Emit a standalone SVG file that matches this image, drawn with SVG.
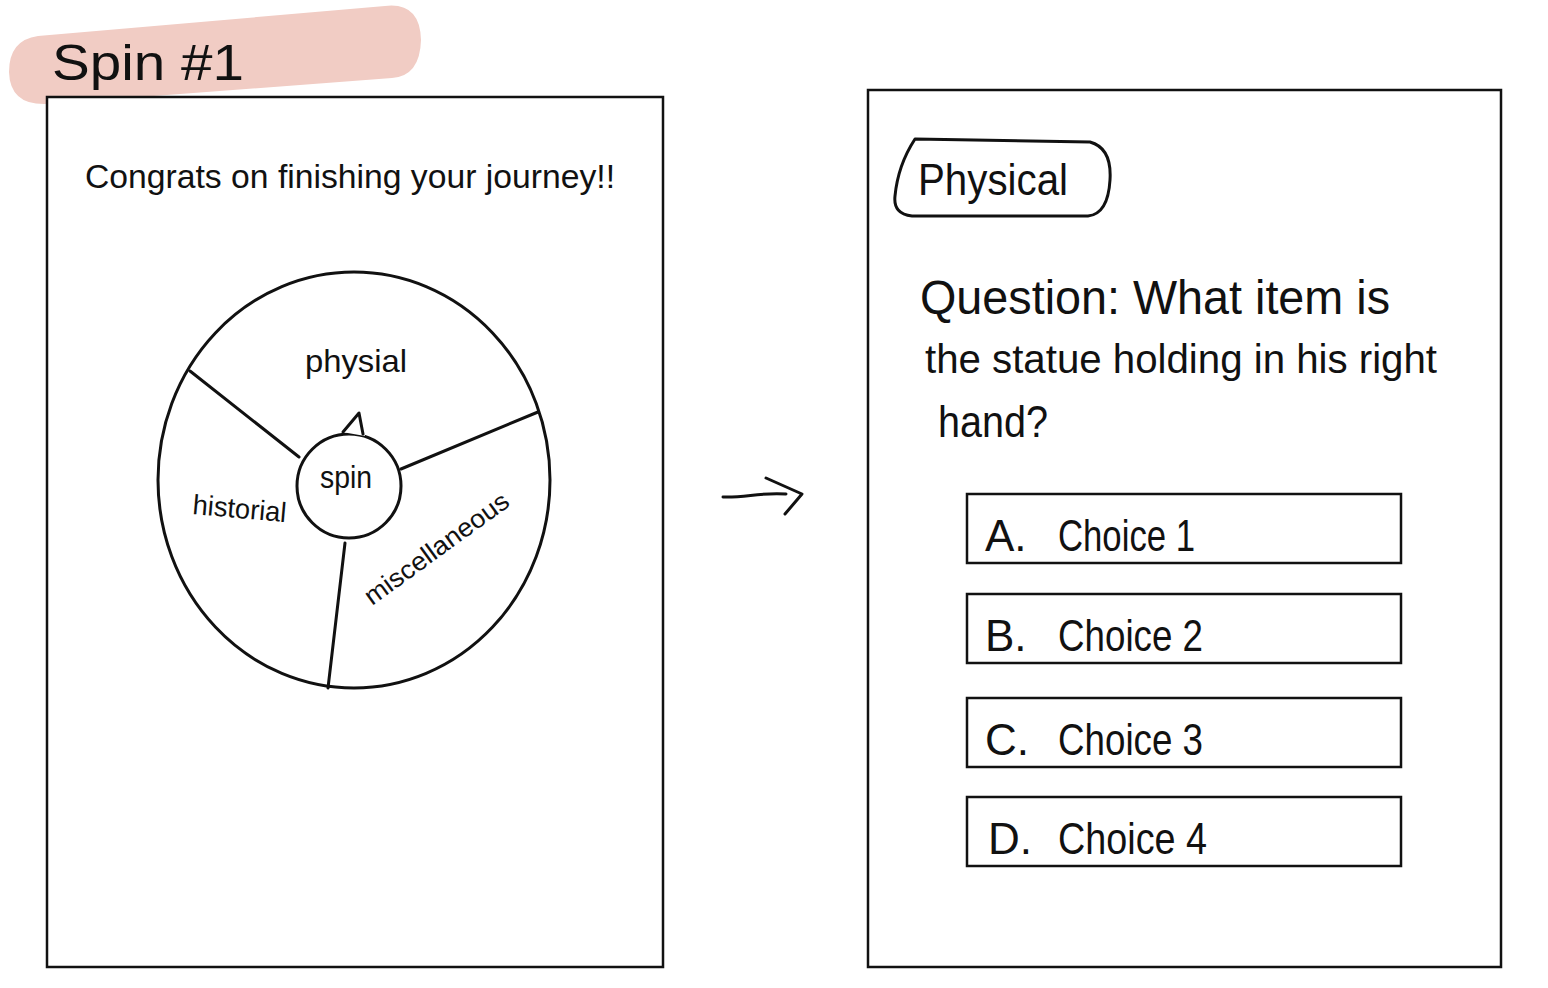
<svg xmlns="http://www.w3.org/2000/svg" width="1548" height="988" viewBox="0 0 1548 988">
<style>
.frame{fill:#fff;stroke:#111;stroke-width:2.5}
.ln{fill:none;stroke:#111;stroke-width:3;stroke-linecap:round;stroke-linejoin:round}
.t{font-family:"Liberation Sans","DejaVu Sans",sans-serif;fill:#111}
.box{fill:#fff;stroke:#111;stroke-width:2.5}
.c{font-family:"Liberation Sans","DejaVu Sans",sans-serif;fill:#111;font-size:44px}
</style>
<rect width="1548" height="988" fill="#fff"/>
<g id="title">
<path d="M38,36 L385,6 Q420,2 421,40 Q420,76 392,78 L48,104 Q10,106 9,72 Q9,40 38,36 Z" fill="#f1ccc4"/>
<text class="t" x="52" y="80" font-size="50" textLength="192" lengthAdjust="spacingAndGlyphs">Spin #1</text>
</g>
<g id="spin-screen">
<rect class="frame" x="47" y="97" width="616" height="870"/>
<text class="t" x="85" y="188" font-size="34" textLength="530" lengthAdjust="spacingAndGlyphs">Congrats on finishing your journey!!</text>
<g id="wheel">
<ellipse cx="354" cy="480" rx="196" ry="208" class="ln"/>
<path class="ln" d="M190,371 L299,457 M538,412 L401,469 M345,543 L328,688"/>
<circle cx="349" cy="486" r="52" class="ln" fill="#fff"/>
<path d="M342,432 L359,413 L365,436 Z" fill="#fff"/>
<path class="ln" d="M343,432 L359,413 L363,434"/>
<text class="t" x="305" y="372" font-size="32" textLength="102" lengthAdjust="spacingAndGlyphs">physial</text>
<text class="t" x="320" y="488" font-size="32" textLength="52" lengthAdjust="spacingAndGlyphs">spin</text>
<text class="t" x="0" y="0" font-size="28" textLength="94" lengthAdjust="spacingAndGlyphs" transform="translate(192,514) rotate(5)">historial</text>
<text class="t" x="0" y="0" font-size="26" textLength="172" lengthAdjust="spacingAndGlyphs" transform="translate(372,606) rotate(-36)">miscellaneous</text>
</g>
</g>
<g id="connectors">
<path class="ln" d="M723,497 C745,498 760,492 786,494"/>
<path class="ln" d="M766,478 L802,494 L785,514" stroke-width="4"/>
</g>
<g id="question-screen">
<rect class="frame" x="868" y="90" width="633" height="877"/>
<g id="category-tag">
<path class="ln" stroke-width="3.5" d="M915,139 L1090,142 Q1112,148 1110,180 Q1108,214 1088,216 L912,216 Q893,214 895,196 Q898,165 915,139 Z"/>
<text class="t" x="918" y="195" font-size="44" textLength="150" lengthAdjust="spacingAndGlyphs">Physical</text>
</g>
<text class="t" x="920" y="314" font-size="48" textLength="470" lengthAdjust="spacingAndGlyphs">Question: What item is</text>
<text class="t" x="925" y="373" font-size="40" textLength="512" lengthAdjust="spacingAndGlyphs">the statue holding in his right</text>
<text class="t" x="938" y="437" font-size="44" textLength="110" lengthAdjust="spacingAndGlyphs">hand?</text>
<g id="choice-a"><rect class="box" x="967" y="494" width="434" height="69"/><text class="c" x="985" y="551">A.</text><text class="c" x="1058" y="551" textLength="137" lengthAdjust="spacingAndGlyphs">Choice 1</text></g>
<g id="choice-b"><rect class="box" x="967" y="594" width="434" height="69"/><text class="c" x="985" y="651">B.</text><text class="c" x="1058" y="651" textLength="145" lengthAdjust="spacingAndGlyphs">Choice 2</text></g>
<g id="choice-c"><rect class="box" x="967" y="698" width="434" height="69"/><text class="c" x="985" y="755">C.</text><text class="c" x="1058" y="755" textLength="145" lengthAdjust="spacingAndGlyphs">Choice 3</text></g>
<g id="choice-d"><rect class="box" x="967" y="797" width="434" height="69"/><text class="c" x="988" y="854">D.</text><text class="c" x="1058" y="854" textLength="149" lengthAdjust="spacingAndGlyphs">Choice 4</text></g>
</g>
</svg>
